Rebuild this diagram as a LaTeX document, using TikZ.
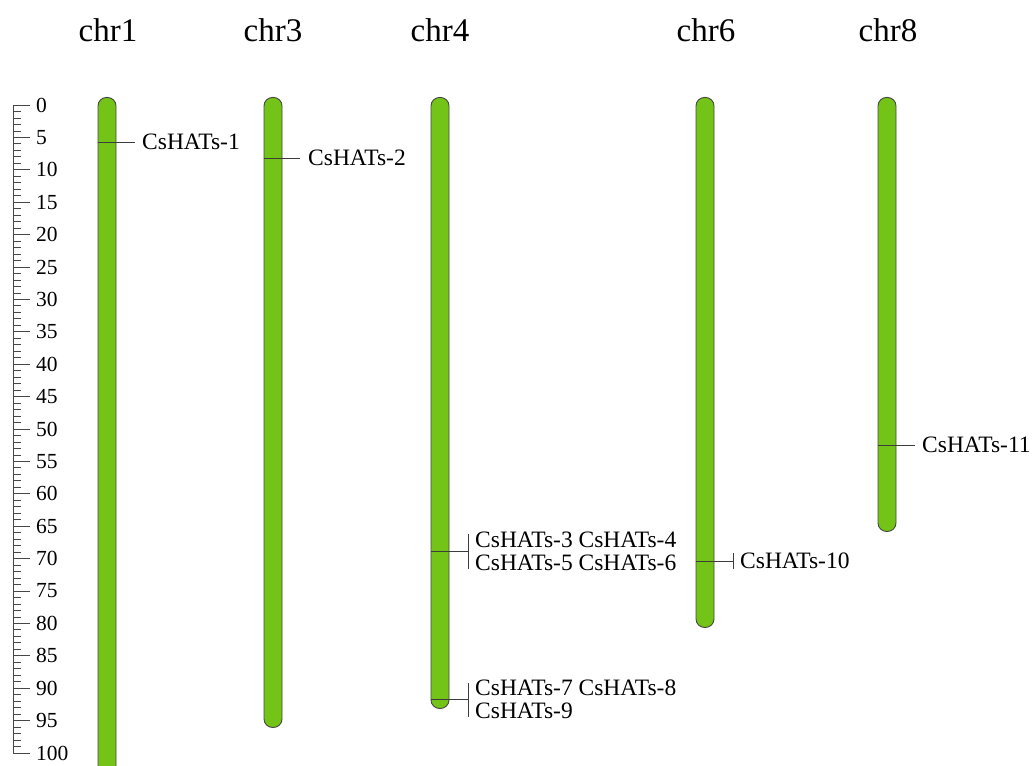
\documentclass[tikz,border=0pt]{standalone}
\usepackage{fontspec}
\setmainfont{Liberation Serif}
\definecolor{chrgreen}{RGB}{115,196,22}
\definecolor{edgec}{RGB}{70,70,70}
\definecolor{mkc}{RGB}{60,60,60}
\tikzset{
  chrom/.style={draw=edgec, fill=chrgreen, line width=0.9pt, rounded corners=8.5pt,
    minimum width=18pt, inner sep=0pt, anchor=north},
  ttl/.style={font=\fontsize{33}{33}\selectfont, inner sep=0pt},
  lab/.style={font=\fontsize{23.5}{23}\selectfont, inner sep=0pt, anchor=west, align=left},
  sclab/.style={font=\fontsize{21.5}{21.5}\selectfont, inner sep=0pt, anchor=west},
  mk/.style={draw=mkc, line width=0.8pt},
  tick/.style={draw=edgec, line width=0.8pt}
}
\begin{document}
\begin{tikzpicture}[x=1pt,y=-1pt]
\useasboundingbox (0,0) rectangle (1032,765);
% titles
\node[ttl] (t1) at (108,30) {chr1};
\node[ttl] (t3) at (273,30) {chr3};
\node[ttl] (t4) at (440,30) {chr4};
\node[ttl] (t6) at (706,30) {chr6};
\node[ttl] (t8) at (888,30) {chr8};
% chromosomes
\node[chrom, minimum height=690pt] (c1) at (107,97) {};
\node[chrom, minimum height=630pt] (c3) at (273,97) {};
\node[chrom, minimum height=611pt] (c4) at (440,97) {};
\node[chrom, minimum height=530pt] (c6) at (705,97) {};
\node[chrom, minimum height=434pt] (c8) at (887,97) {};
% scale
\coordinate (s0) at (13,105);
\coordinate (s1) at (13,753);
\draw[tick] (s0) -- (s1);
\foreach \v in {0,...,100}{
  \pgfmathsetmacro{\yy}{105+6.48*\v}
  \draw[tick] (13,\yy) -- (21,\yy);
}
\foreach \v in {0,5,...,100}{
  \pgfmathsetmacro{\yy}{105+6.48*\v}
  \draw[tick] (13,\yy) -- (30,\yy);
  \node[sclab] (n\v) at (36,\yy) {\v};
}
% markers
\node[lab] (m1) at (142,142) {CsHATs-1};
\coordinate (e1) at (135,142);
\draw[mk] (c1.west |- e1) -- (e1);

\node[lab] (m2) at (308,158) {CsHATs-2};
\coordinate (e2) at (300,158);
\draw[mk] (c3.west |- e2) -- (e2);

\node[lab] (m3) at (475,551.5) {CsHATs-3 CsHATs-4\\CsHATs-5 CsHATs-6};
\coordinate (b3) at (468,551.5);
\draw[mk] (c4.west |- b3) -- (b3);
\draw[mk] ([yshift=-17.5pt]b3) -- ([yshift=17.5pt]b3);

\node[lab] (m7) at (475,699.5) {CsHATs-7 CsHATs-8\\CsHATs-9};
\coordinate (b7) at (468,699.5);
\draw[mk] (c4.west |- b7) -- (b7);
\draw[mk] ([yshift=-17pt]b7) -- ([yshift=17pt]b7);

\node[lab] (m10) at (740,561) {CsHATs-10};
\coordinate (b10) at (733,561);
\draw[mk] (c6.west |- b10) -- (b10);
\draw[mk] ([yshift=-8pt]b10) -- ([yshift=8pt]b10);

\node[lab] (m11) at (922,445) {CsHATs-11};
\coordinate (e11) at (915,445);
\draw[mk] (c8.west |- e11) -- (e11);
\end{tikzpicture}
\end{document}
